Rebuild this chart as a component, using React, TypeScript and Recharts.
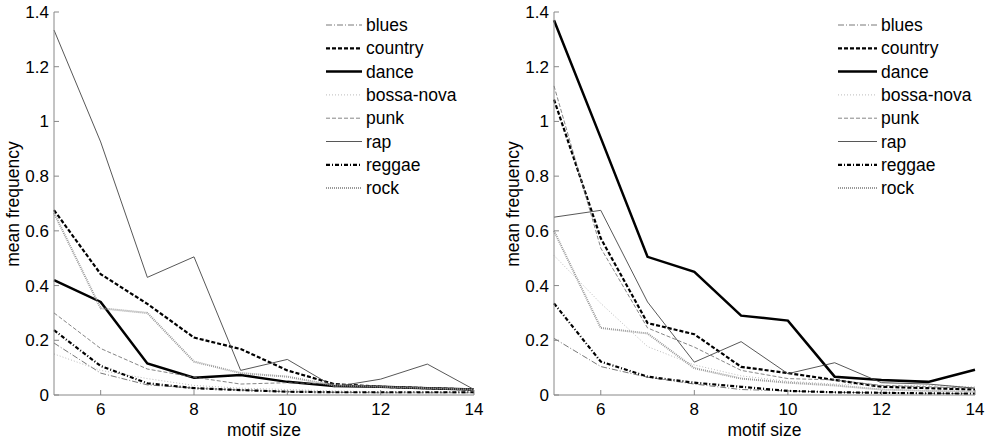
import { LineChart, Line, XAxis, YAxis, Legend } from 'recharts'

const motifSizes = [5, 6, 7, 8, 9, 10, 11, 12, 13, 14]
const genres = ['blues', 'country', 'dance', 'bossa-nova', 'punk', 'rap', 'reggae', 'rock']
const xTicks = [6, 8, 10, 12, 14]
const yTicks = [0, 0.2, 0.4, 0.6, 0.8, 1, 1.2, 1.4]

// left panel
const leftBlues = [0.19, 0.08, 0.037, 0.025, 0.018, 0.012, 0.01, 0.008, 0.008, 0.008]
const leftCountry = [0.676, 0.442, 0.333, 0.21, 0.168, 0.09, 0.04, 0.03, 0.025, 0.02]
const leftDance = [0.42, 0.34, 0.115, 0.063, 0.073, 0.048, 0.033, 0.03, 0.025, 0.02]
const leftBossa = [0.15, 0.09, 0.06, 0.035, 0.025, 0.02, 0.015, 0.012, 0.012, 0.012]
const leftPunk = [0.3, 0.17, 0.095, 0.065, 0.04, 0.045, 0.04, 0.03, 0.025, 0.02]
const leftRap = [1.334, 0.925, 0.43, 0.505, 0.09, 0.13, 0.03, 0.058, 0.113, 0.02]
const leftReggae = [0.237, 0.106, 0.043, 0.025, 0.018, 0.012, 0.01, 0.01, 0.01, 0.01]
const leftRock = [0.665, 0.317, 0.3, 0.122, 0.08, 0.067, 0.035, 0.03, 0.025, 0.02]

// right panel
const rightBlues = [0.207, 0.104, 0.065, 0.04, 0.02, 0.015, 0.01, 0.008, 0.006, 0.005]
const rightCountry = [1.08, 0.573, 0.263, 0.222, 0.103, 0.08, 0.055, 0.03, 0.025, 0.02]
const rightDance = [1.37, 0.94, 0.505, 0.45, 0.29, 0.272, 0.067, 0.055, 0.048, 0.092]
const rightBossa = [0.51, 0.335, 0.177, 0.11, 0.07, 0.05, 0.04, 0.035, 0.035, 0.03]
const rightPunk = [1.13, 0.537, 0.245, 0.175, 0.09, 0.06, 0.055, 0.035, 0.03, 0.025]
const rightRap = [0.65, 0.675, 0.34, 0.12, 0.195, 0.078, 0.118, 0.045, 0.04, 0.025]
const rightReggae = [0.335, 0.122, 0.067, 0.045, 0.03, 0.015, 0.01, 0.008, 0.006, 0.005]
const rightRock = [0.6, 0.245, 0.225, 0.098, 0.06, 0.045, 0.035, 0.02, 0.015, 0.012]

const lineStyles: Record<string, { stroke: string; width: number; dash?: string }> = {
  blues: { stroke: '#555', width: 0.8, dash: '6 2 1 2' },
  country: { stroke: '#000', width: 2.2, dash: '4 2' },
  dance: { stroke: '#000', width: 2.5 },
  'bossa-nova': { stroke: '#aaa', width: 0.8, dash: '1 2' },
  punk: { stroke: '#666', width: 0.8, dash: '4 2' },
  rap: { stroke: '#444', width: 0.9 },
  reggae: { stroke: '#000', width: 2.2, dash: '4 2 1 2' },
  rock: { stroke: '#999', width: 2, dash: '1 1' },
}

const font = '"Liberation Sans", Arial, Helvetica, sans-serif'

function buildRows(series: number[][]) {
  return motifSizes.map((size, i) => {
    const row: Record<string, number> = { size }
    genres.forEach((g, j) => {
      row[g] = series[j][i]
    })
    return row
  })
}

const leftData = buildRows([leftBlues, leftCountry, leftDance, leftBossa, leftPunk, leftRap, leftReggae, leftRock])
const rightData = buildRows([rightBlues, rightCountry, rightDance, rightBossa, rightPunk, rightRap, rightReggae, rightRock])

function GenreLegend({ lineLen }: { lineLen: number }) {
  return (
    <svg width={160} height={200} style={{ display: 'block' }}>
      {genres.map((g, i) => {
        const s = lineStyles[g]
        const y = 25 + i * 23.3
        return (
          <g key={g}>
            <line x1={6} x2={6 + lineLen} y1={y} y2={y} stroke={s.stroke} strokeWidth={s.width} strokeDasharray={s.dash} />
            <text x={10 + lineLen} y={y + 6} fontSize={17.5} fontFamily={font} fill="#000">
              {g}
            </text>
          </g>
        )
      })}
    </svg>
  )
}

function Panel({ data, legendLeft, lineLen, width, marginRight }: {
  data: Record<string, number>[]
  legendLeft: number
  lineLen: number
  width: number
  marginRight: number
}) {
  return (
    <LineChart width={width} height={442} data={data} margin={{ top: 12, right: marginRight, bottom: 0, left: 10 }} style={{ fontFamily: font }}>
      <XAxis
        dataKey="size"
        type="number"
        domain={[5, 14]}
        ticks={xTicks}
        height={47}
        stroke="#888"
        tickSize={-5}
        tickMargin={13}
        tick={{ fontSize: 17, fill: '#000', fontFamily: font }}
        label={{ value: 'motif size', position: 'insideBottom', offset: 6, fill: '#000', fontSize: 17.5, fontFamily: font }}
      />
      <YAxis
        type="number"
        domain={[0, 1.4]}
        ticks={yTicks}
        width={44}
        stroke="#888"
        tickSize={-5}
        tickMargin={10}
        tick={{ fontSize: 17, fill: '#000', fontFamily: font }}
        label={{
          content: () => (
            <text x={19} y={204} transform="rotate(-90 19 204)" textAnchor="middle" fontSize={17.5} fontFamily={font} fill="#000">
              mean frequency
            </text>
          ),
        }}
      />
      {genres.map((g) => {
        const s = lineStyles[g]
        return (
          <Line
            key={g}
            dataKey={g}
            stroke={s.stroke}
            strokeWidth={s.width}
            strokeDasharray={s.dash}
            dot={false}
            activeDot={false}
            isAnimationActive={false}
          />
        )
      })}
      <Legend
        layout="vertical"
        align="center"
        verticalAlign="middle"
        wrapperStyle={{ left: legendLeft, top: 0, width: 160 }}
        content={() => <GenreLegend lineLen={lineLen} />}
      />
    </LineChart>
  )
}

export default function App() {
  return (
    <div style={{ position: 'absolute', left: 0, top: 0, width: 999, height: 442, background: '#fff' }}>
      <div style={{ position: 'absolute', left: 0, top: 0 }}>
        <Panel data={leftData} legendLeft={320} lineLen={36} width={500} marginRight={26} />
      </div>
      <div style={{ position: 'absolute', left: 500, top: 0 }}>
        <Panel data={rightData} legendLeft={332} lineLen={39} width={499} marginRight={24} />
      </div>
    </div>
  )
}
